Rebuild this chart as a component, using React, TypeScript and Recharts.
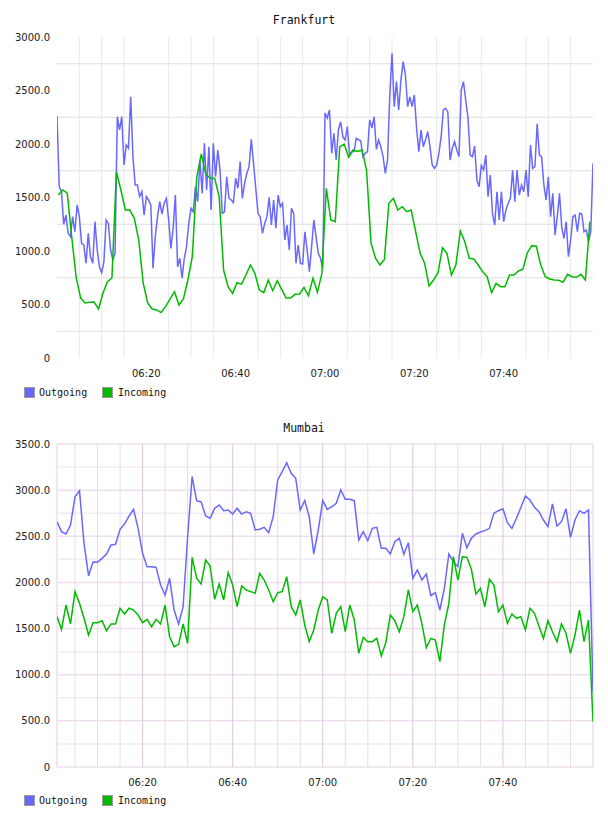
import React from 'react';
import { LineChart, Line, XAxis, YAxis, CartesianGrid, Legend } from 'recharts';

// ---- categories / ticks ----
const timeTicks = [20, 40, 60, 80, 100];
const timeTickLabels = ['06:20', '06:40', '07:00', '07:20', '07:40'];
const fiveMinuteMarks = [5, 10, 15, 20, 25, 30, 35, 40, 45, 50, 55, 60, 65, 70, 75, 80, 85, 90, 95, 100, 105, 110, 115];
const mumbaiFiveMinuteMarks = [5, 10, 15, 25, 30, 35, 45, 50, 55, 65, 70, 75, 85, 90, 95, 105, 110, 115];
const frankfurtYTicks = [0, 500, 1000, 1500, 2000, 2500, 3000];
const frankfurtGridValues = [250, 750, 1250, 1750, 2250, 2750];
const mumbaiYTicks = [0, 500, 1000, 1500, 2000, 2500, 3000, 3500];
const mumbaiMinorValues = [250, 750, 1250, 1750, 2250, 2750, 3250];
const seriesNames = ['Outgoing', 'Incoming'];

// ---- Frankfurt: Outgoing every 30 s from 06:00, Incoming every minute ----
const frankfurtOutgoing = [
  2262, 1601, 1554, 1250, 1336, 1165, 1134, 1321, 1180, 1430,
  1321, 1072, 1056, 885, 1165, 947, 885, 1274, 1009, 853,
  797, 900, 1290, 1258, 1009, 916, 978, 2255, 2131, 2255,
  1804, 1991, 1960, 2442, 1882, 1617, 1617, 1508, 1554, 1336,
  1508, 1477, 1430, 838, 1134, 1321, 1461, 1346, 1446, 1492,
  1290, 1025, 1212, 1523, 853, 932, 745, 932, 1040, 1258,
  1399, 1367, 1601, 1461, 1850, 1539, 2006, 1570, 1975, 1383,
  2006, 1694, 1944, 1757, 1352, 1367, 1694, 1492, 1477, 1452,
  1680, 1586, 1835, 1492, 1632, 1726, 1788, 2044, 1819, 1586,
  1352, 1321, 1165, 1258, 1321, 1501, 1243, 1477, 1212, 1523,
  1414, 1446, 1103, 1243, 1009, 1399, 1352, 885, 1056, 885,
  879, 1180, 1009, 807, 1040, 1290, 1134, 978, 932, 838,
  2290, 2243, 2318, 1913, 2100, 1850, 2131, 2208, 2069, 2037,
  2162, 1897, 1929, 1929, 2053, 2040, 2030, 1882, 1913, 1929,
  2224, 2150, 2255, 1950, 2037, 1975, 1882, 1726, 1850, 2450,
  2848, 2349, 2583, 2318, 2600, 2770, 2645, 2350, 2440, 2349,
  2458, 2147, 1929, 2131, 1975, 2037, 2115, 1975, 1804, 1773,
  1804, 1913, 2069, 2318, 2333, 2300, 1850, 1960, 2022, 1944,
  1882, 2505, 2583, 2411, 2250, 1897, 1882, 1980, 1663, 1601,
  1800, 1757, 1897, 1508, 1710, 1352, 1243, 1554, 1290, 1554,
  1274, 1383, 1446, 1492, 1757, 1461, 1757, 1523, 1617, 1554,
  1757, 1508, 1991, 1773, 1788, 2190, 1897, 1882, 1617, 1477,
  1694, 1321, 1539, 1150, 1321, 1539, 1220, 1118, 1274, 947,
  1103, 1321, 1336, 1180, 1352, 1346, 1180, 1196, 1087, 1180,
  1820,
];
const frankfurtIncoming = [
  1523, 1570, 1540, 1130, 750, 560, 515, 520, 523, 458,
  607, 713, 748, 1741, 1570, 1383, 1383, 1308, 1103, 700,
  514, 458, 449, 424, 480, 551, 620, 495, 551, 729,
  950, 1694, 1907, 1720, 1680, 1680, 1508, 822, 667, 604,
  704, 690, 776, 869, 791, 635, 611, 729, 629, 723,
  642, 561, 561, 595, 598, 660, 583, 745, 614, 791,
  1586, 1290, 1274, 1975, 2000, 1876, 1944, 1930, 1944, 1757,
  1078, 932, 869, 922, 1446, 1492, 1383, 1414, 1367, 1383,
  1180, 978, 885, 673, 729, 797, 1031, 978, 776, 869,
  1187, 1087, 932, 926, 869, 807, 760, 611, 698, 667,
  667, 776, 776, 813, 829, 984, 1050, 1045, 869, 760,
  738, 729, 726, 707, 782, 760, 754, 782, 729, 1274,
];

// ---- Mumbai: both series every minute from 06:01 ----
const mumbaiOutgoing = [
  2658, 2550, 2525, 2622, 2929, 2994, 2424, 2073, 2221, 2218,
  2261, 2308, 2406, 2413, 2576, 2633, 2720, 2792, 2586, 2316,
  2171, 2171, 2163, 1972, 1864, 2045, 1701, 1550, 1737, 2495,
  3146, 2886, 2872, 2720, 2695, 2803, 2839, 2777, 2785, 2741,
  2803, 2741, 2766, 2749, 2568, 2576, 2597, 2539, 2712, 3110,
  3200, 3297, 3182, 3128, 2785, 2886, 2712, 2308, 2568, 2886,
  2792, 2820, 2857, 3002, 2900, 2900, 2886, 2460, 2550, 2452,
  2586, 2597, 2370, 2370, 2308, 2441, 2478, 2305, 2431, 2045,
  2135, 2026, 2091, 1856, 1889, 1701, 1936, 2308, 2225, 2171,
  2532, 2376, 2478, 2525, 2547, 2561, 2586, 2749, 2777, 2799,
  2647, 2586, 2695, 2814, 2937, 2893, 2814, 2766, 2676, 2604,
  2850, 2611, 2658, 2799, 2489, 2676, 2777, 2749, 2785, 816,
];
const mumbaiIncoming = [
  1629, 1492, 1755, 1550, 1900, 1774, 1611, 1430, 1564, 1564,
  1585, 1477, 1550, 1550, 1720, 1658, 1720, 1701, 1647, 1564,
  1600, 1520, 1600, 1550, 1755, 1412, 1304, 1329, 1550, 1340,
  2272, 2045, 1983, 2243, 2178, 1817, 1983, 1810, 2106, 1972,
  1737, 1961, 1918, 1900, 1882, 2099, 2026, 1918, 1791, 1889,
  1900, 2062, 1737, 1647, 1810, 1539, 1358, 1485, 1701, 1845,
  1810, 1449, 1665, 1737, 1466, 1755, 1593, 1232, 1405, 1358,
  1358, 1394, 1203, 1347, 1647, 1585, 1466, 1629, 1918, 1683,
  1755, 1557, 1293, 1394, 1376, 1141, 1539, 1774, 2279, 2026,
  2279, 2272, 2142, 1875, 1936, 1737, 2034, 1972, 1683, 1755,
  1557, 1658, 1611, 1629, 1485, 1720, 1665, 1528, 1394, 1585,
  1466, 1358, 1550, 1449, 1232, 1430, 1701, 1358, 1593, 491,
];

// ---- tables built for the library ----
const fOut = frankfurtOutgoing.map((v, i) => ({ t: i * 0.5, v }));
const fIn = frankfurtIncoming.map((v, i) => ({ t: i + 0.3, v }));
const mOut = mumbaiOutgoing.map((v, i) => ({ t: i + 1, v }));
const mIn = mumbaiIncoming.map((v, i) => ({ t: i + 1, v }));

const BLUE = '#6868ff';
const GREEN = '#00bb00';

const tickStyle = { fontFamily: '"DejaVu Sans", sans-serif', fontSize: 10, fill: '#222' };
const fmtTime = (v: number) => timeTickLabels[timeTicks.indexOf(v)] ?? '';
const fmtVal = (v: number) => (v === 0 ? '0' : v.toFixed(1));

const LegendBox = () => (
  <div style={{ position: 'relative', width: 200, height: 11, fontFamily: '"DejaVu Sans Mono", monospace', fontSize: 10, color: '#111' }}>
    <span style={{ position: 'absolute', left: 24, top: 0, width: 11, height: 11, boxSizing: 'border-box', border: '1px solid #9a9a9a', background: BLUE }} />
    <span style={{ position: 'absolute', left: 39, top: 0, lineHeight: '11px' }}>{seriesNames[0]}</span>
    <span style={{ position: 'absolute', left: 102, top: 0, width: 11, height: 11, boxSizing: 'border-box', border: '1px solid #9a9a9a', background: GREEN }} />
    <span style={{ position: 'absolute', left: 118, top: 0, lineHeight: '11px' }}>{seriesNames[1]}</span>
  </div>
);

const titleStyle: React.CSSProperties = {
  position: 'absolute',
  left: 0,
  width: 608,
  textAlign: 'center',
  fontFamily: '"DejaVu Sans Mono", monospace',
  fontSize: 11.5,
  lineHeight: '12px',
  color: '#111',
};

export default function App() {
  return (
    <div style={{ position: 'absolute', left: 0, top: 0, width: 608, height: 816, background: '#fff' }}>
      <div style={{ ...titleStyle, top: 14 }}>Frankfurt</div>
      <div style={{ position: 'absolute', left: 0, top: 0 }}>
        <LineChart width={608} height={410} margin={{ top: 37, right: 15, bottom: 22, left: 7 }}>
          <CartesianGrid horizontal={true} vertical={false} horizontalValues={frankfurtGridValues} stroke="#dedede" />
          <CartesianGrid horizontal={false} vertical={true} verticalValues={fiveMinuteMarks} stroke="#e8e8e8" />
          <XAxis type="number" dataKey="t" domain={[0, 120]} ticks={timeTicks} tickFormatter={fmtTime}
            axisLine={false} tickLine={false} tickSize={0} tickMargin={12} tick={tickStyle} height={30} allowDataOverflow />
          <YAxis type="number" domain={[0, 3000]} ticks={frankfurtYTicks} tickFormatter={fmtVal}
            axisLine={false} tickLine={false} tickSize={0} tickMargin={7} tick={tickStyle} width={50} />
          <Legend layout="horizontal" verticalAlign="middle" align="center" content={LegendBox}
            wrapperStyle={{ position: 'absolute', left: 0, top: 387, width: 200, height: 11, margin: 0 }} />
          <Line data={fOut} dataKey="v" name={seriesNames[0]} stroke={BLUE} strokeWidth={1.5} dot={false} isAnimationActive={false} />
          <Line data={fIn} dataKey="v" name={seriesNames[1]} stroke={GREEN} strokeWidth={1.5} dot={false} isAnimationActive={false} />
        </LineChart>
      </div>

      <div style={{ ...titleStyle, top: 422 }}>Mumbai</div>
      <div style={{ position: 'absolute', left: 0, top: 410 }}>
        <LineChart width={608} height={406} margin={{ top: 34, right: 15, bottom: 19, left: 7 }}>
          <CartesianGrid horizontal={true} vertical={false} horizontalValues={mumbaiMinorValues} stroke="#f2ebf2" strokeWidth={1.5} />
          <CartesianGrid horizontal={true} vertical={false} horizontalValues={mumbaiYTicks} stroke="#eddfed" strokeWidth={1.5} />
          <CartesianGrid horizontal={false} vertical={true} verticalValues={mumbaiFiveMinuteMarks} stroke="#e6dde6" />
          <CartesianGrid horizontal={false} vertical={true} verticalValues={timeTicks} stroke="#dac6da" />
          <CartesianGrid horizontal={false} vertical={true} verticalValues={[1, 120]} stroke="#eddfed" strokeWidth={1.5} />
          <XAxis type="number" dataKey="t" domain={[1, 120]} ticks={timeTicks} tickFormatter={fmtTime}
            axisLine={false} tickLine={false} tickSize={0} tickMargin={12} tick={tickStyle} height={30} allowDataOverflow />
          <YAxis type="number" domain={[0, 3500]} ticks={mumbaiYTicks} tickFormatter={fmtVal}
            axisLine={false} tickLine={false} tickSize={0} tickMargin={7} tick={tickStyle} width={50} />
          <Legend layout="horizontal" verticalAlign="middle" align="center" content={LegendBox}
            wrapperStyle={{ position: 'absolute', left: 0, top: 385, width: 200, height: 11, margin: 0 }} />
          <Line data={mOut} dataKey="v" name={seriesNames[0]} stroke={BLUE} strokeWidth={1.5} dot={false} isAnimationActive={false} />
          <Line data={mIn} dataKey="v" name={seriesNames[1]} stroke={GREEN} strokeWidth={1.5} dot={false} isAnimationActive={false} />
        </LineChart>
      </div>
    </div>
  );
}
